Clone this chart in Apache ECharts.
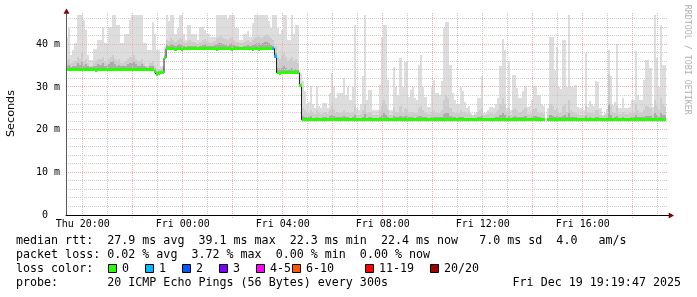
<!DOCTYPE html>
<html><head><meta charset="utf-8">
<script src="https://cdn.jsdelivr.net/npm/echarts@6/dist/echarts.min.js"></script>
<style>html,body{margin:0;padding:0;background:#fff}#c{width:697px;height:297px}</style>
</head><body><div id="c"></div>
<script>
// ---- time base: 5-minute steps starting Thu 19:20 (hours since Thu 00:00)
const startHour = 19 + 20 / 60;
const stepHours = 5 / 60;
const axisMinHour = 19 + 19 / 60 + 47 / 3600;
const axisMaxHour = axisMinHour + 24;
const yMaxMs = 47.2;

// ---- median RTT (ms), one value per 5 minutes
const medianRtt = [
 34.0,34.0,34.0,34.0,34.0,34.0,34.0,34.0,34.0,34.0,34.0,34.0,
 34.0,34.0,33.8,34.0,34.0,34.0,34.0,34.0,34.0,34.0,34.0,34.0,
 34.0,34.0,34.0,34.0,34.0,34.0,34.0,34.0,34.0,34.0,34.0,34.0,
 34.0,34.0,34.0,34.0,34.0,34.0,33.7,33.0,33.2,33.3,33.3,36.8,
 39.0,39.0,39.0,39.0,38.7,39.0,39.0,38.7,39.0,39.0,39.0,39.0,
 39.0,39.0,39.0,39.0,39.0,39.0,39.0,39.0,39.0,39.0,39.0,39.0,
 38.7,39.0,39.0,39.0,39.0,39.0,39.0,38.7,39.0,39.0,39.0,39.0,
 39.0,39.0,39.0,39.0,39.0,38.7,39.0,39.0,38.7,39.0,39.0,39.0,
 39.0,39.0,39.0,39.0,37.2,33.3,33.1,33.3,33.3,33.3,33.3,33.3,
 33.3,33.3,33.3,33.3,30.4,22.3,22.3,22.3,22.3,22.3,22.3,22.3,
 22.3,22.3,22.3,22.3,22.3,22.3,22.3,22.3,22.3,22.3,22.3,22.3,
 22.3,22.3,22.3,22.3,22.3,22.3,22.3,22.3,22.3,22.3,22.3,22.3,
 22.3,22.3,22.3,22.3,22.3,22.3,22.3,22.3,22.3,22.3,22.3,22.3,
 22.3,22.3,22.3,22.3,22.3,22.3,22.3,22.3,22.3,22.3,22.3,22.3,
 22.3,22.3,22.3,22.3,22.3,22.3,22.3,22.3,22.3,22.3,22.3,22.3,
 22.3,22.3,22.3,22.3,22.3,22.3,22.3,22.3,22.3,22.3,22.3,22.3,
 22.3,22.3,22.3,22.3,22.3,22.3,22.3,22.3,22.3,22.3,22.3,22.3,
 22.3,22.3,22.3,22.3,22.3,22.3,22.3,22.3,22.3,22.3,22.3,22.3,
 22.3,22.3,22.3,22.3,22.3,22.3,22.3,22.3,22.3,22.3,22.3,22.3,
 22.3,22.3,null,22.3,22.3,22.3,22.3,22.3,22.3,22.3,22.3,22.3,
 22.3,22.3,22.3,22.3,22.3,22.3,22.3,22.3,22.3,22.3,22.3,22.3,
 22.3,22.3,22.3,22.3,22.3,22.3,22.3,22.3,22.3,22.3,22.3,22.3,
 22.3,22.3,22.3,22.3,22.3,22.3,22.3,22.3,22.3,22.3,22.3,22.3,
 22.3,22.3,22.3,22.3,22.3,22.3,22.3,22.3,22.3,22.4,22.4,22.4
];

// ---- top of the dark smoke core (ms)
const rttCore = [
 34.8,35.2,34.6,34.8,35.0,35.5,35.2,35.8,35.0,35.3,34.8,34.6,
 34.6,34.8,35.0,35.3,35.2,35.6,35.0,34.9,35.3,35.8,36.0,35.3,
 35.0,35.2,34.8,34.8,35.0,35.3,35.6,35.5,35.8,35.3,35.0,35.0,
 35.3,34.8,34.6,34.5,34.8,35.0,34.3,33.6,33.7,33.8,33.8,37.3,
 39.8,39.6,40.0,39.8,39.5,39.8,40.0,39.8,39.5,39.4,39.6,39.7,
 39.5,39.6,39.5,39.4,39.6,39.8,40.0,39.7,39.5,39.5,39.6,39.8,
 40.0,40.2,40.3,40.0,39.8,39.7,40.0,40.2,39.8,39.6,39.5,39.4,
 39.4,39.5,39.7,39.8,39.6,39.8,40.0,40.2,40.4,40.1,40.3,40.5,
 40.5,40.2,39.8,39.6,38.0,34.5,34.2,34.5,34.8,34.4,34.0,34.2,
 34.5,34.0,34.2,33.9,30.8,23.2,23.0,22.9,22.9,23.1,22.8,22.8,
 23.0,22.8,22.7,22.9,23.0,22.8,23.1,23.5,23.2,22.9,23.0,22.9,
 22.9,23.1,22.9,23.0,22.8,22.9,23.4,22.7,22.7,22.8,23.0,23.6,
 22.8,23.0,22.9,22.7,22.7,22.7,23.0,23.4,23.8,23.5,23.0,22.7,
 22.7,23.2,23.0,22.9,23.3,22.9,23.2,23.1,22.9,23.0,22.9,22.8,
 22.9,23.2,23.3,23.0,22.9,22.7,22.7,22.9,23.0,22.9,22.9,22.9,
 23.0,23.6,24.0,23.8,23.2,22.9,22.9,22.8,22.9,23.0,22.9,22.8,
 22.8,22.8,22.7,22.6,22.7,22.9,23.0,23.2,22.7,22.7,22.8,22.8,
 22.8,22.8,22.9,23.0,23.4,23.8,23.5,22.8,23.2,22.7,23.0,23.1,
 23.0,22.9,22.9,23.0,23.1,22.7,22.8,22.9,23.1,23.1,22.9,22.9,
 22.8,22.8,null,22.7,23.4,23.3,23.0,23.2,22.9,22.9,23.3,23.5,
 23.0,23.8,23.0,23.0,22.9,22.7,22.7,22.7,22.7,23.3,22.8,22.9,
 22.8,22.8,23.0,23.0,22.7,22.6,22.7,22.8,26.0,23.4,22.8,22.9,
 23.3,22.8,22.8,22.9,22.8,22.8,22.8,22.9,22.9,23.5,23.0,22.9,
 22.9,23.0,23.3,23.3,23.2,22.8,23.8,23.4,23.0,24.0,23.5,23.4
];

// ---- top of the medium grey smoke (ms)
const rttUpper = [
 36.0,36.5,35.5,35.5,36.0,37.0,36.5,38.0,36.0,36.5,35.5,35.0,
 35.0,35.5,36.0,36.5,36.5,37.0,36.0,35.5,36.5,37.0,37.5,36.5,
 36.0,36.5,35.5,35.5,36.0,36.5,37.0,37.0,37.5,36.5,36.0,36.0,
 36.5,35.5,35.0,35.0,35.5,36.0,35.0,34.2,34.3,34.3,34.4,37.8,
 41.0,40.8,41.5,41.0,40.5,41.0,41.5,41.2,40.5,40.3,40.8,41.0,
 40.5,40.5,40.2,40.0,40.5,41.0,41.2,40.8,40.5,40.3,40.5,40.8,
 41.5,41.8,42.0,41.5,41.2,41.0,41.5,41.8,41.0,40.5,40.5,40.2,
 40.2,40.5,40.8,41.0,40.5,41.0,41.5,41.8,42.0,41.5,41.8,42.0,
 42.5,42.0,41.5,41.0,39.5,37.0,36.5,37.5,38.0,37.0,36.0,36.5,
 37.0,36.0,36.5,35.5,31.0,25.0,24.5,24.0,24.0,24.5,23.8,23.6,
 24.5,23.8,23.6,24.0,24.2,23.6,24.5,25.5,24.8,24.0,24.2,24.0,
 24.0,24.5,24.0,24.2,23.8,24.0,25.5,23.5,23.4,23.6,24.5,26.0,
 23.8,24.2,24.0,23.4,23.5,23.4,24.5,25.5,27.0,26.0,24.5,23.4,
 23.4,25.0,24.2,24.0,25.5,24.0,25.0,24.8,24.0,24.2,24.0,23.8,
 24.0,25.0,25.5,24.5,24.0,23.6,23.6,24.2,24.5,24.0,24.0,24.0,
 24.5,27.0,28.0,27.5,25.0,24.2,24.0,23.8,24.0,24.5,24.2,23.8,
 23.6,23.8,23.4,23.3,23.4,24.2,24.5,25.0,23.5,23.4,23.6,23.8,
 23.8,23.6,24.0,24.5,26.0,27.5,26.0,23.8,25.0,23.5,24.5,25.0,
 24.5,24.2,24.2,24.5,25.0,23.6,23.7,24.0,24.8,25.0,24.2,24.0,
 23.8,23.6,null,23.5,26.0,25.5,24.5,25.0,24.0,24.0,25.5,26.0,
 24.2,27.0,24.5,24.2,24.0,23.6,23.5,23.5,23.4,25.5,23.8,24.0,
 23.8,23.6,24.5,24.5,23.5,23.3,23.4,23.6,33.0,25.5,23.8,24.0,
 25.5,23.6,23.6,24.2,23.6,23.6,23.8,24.0,24.0,26.0,24.5,24.0,
 24.0,24.5,25.5,25.5,25.0,23.6,27.0,25.5,24.5,27.5,26.0,25.5
];

// ---- highest ping of each step (ms), top of the light smoke
const rttMax = [
 41.8,43.7,37.5,38.6,40.2,46.8,46.8,46.8,45.7,43.3,37.5,36.3,
 36.3,38.9,38.9,41.0,41.0,44.1,40.2,40.2,44.1,44.1,46.8,46.8,
 44.5,44.5,40.2,40.2,42.5,42.5,45.7,46.8,46.8,46.8,46.8,46.8,
 46.8,40.2,40.2,38.6,38.6,45.3,42.5,38.6,38.6,35.0,35.0,39.5,
 46.8,45.4,46.8,46.8,42.5,43.8,46.8,46.8,42.5,41.1,44.5,44.5,
 42.5,42.5,42.5,41.0,44.1,44.1,43.3,42.5,42.5,41.8,41.8,41.8,
 46.8,46.8,46.8,46.8,46.8,45.8,46.8,46.8,46.8,43.8,43.8,41.1,
 41.1,42.3,42.3,43.1,41.8,45.0,46.8,46.8,46.8,46.8,46.8,46.8,
 46.8,45.4,43.8,46.8,46.8,43.8,42.5,43.3,46.8,46.8,41.0,41.0,
 46.8,42.5,44.5,44.5,33.0,31.3,29.0,26.0,26.5,30.2,26.0,25.0,
 30.2,25.5,25.0,26.3,26.3,25.0,28.6,33.3,30.0,27.5,28.6,28.6,
 28.6,32.0,28.0,30.0,26.9,30.0,44.5,25.0,24.5,26.0,32.5,46.8,
 27.0,29.3,29.3,24.6,24.6,24.6,30.4,41.8,44.6,44.6,31.6,24.6,
 24.6,34.7,30.0,28.2,36.7,30.0,35.9,35.9,27.7,29.3,30.0,27.5,
 27.0,35.1,37.5,30.0,27.7,25.4,25.4,30.0,31.7,28.5,28.5,28.2,
 31.5,43.8,45.3,45.3,35.1,28.5,27.0,26.0,26.1,30.0,29.0,26.5,
 25.1,25.5,23.8,23.5,24.0,27.4,27.4,32.5,24.0,23.8,24.5,25.4,
 25.4,25.0,26.0,27.4,35.0,41.3,38.6,25.1,36.0,24.5,32.9,32.9,
 29.7,27.4,27.4,29.0,30.2,25.3,25.5,27.0,30.2,30.2,28.2,28.0,
 26.0,25.5,null,25.0,41.8,41.8,34.0,39.4,30.0,29.5,41.1,41.1,
 30.0,46.9,30.1,30.1,30.4,25.4,25.0,25.0,24.5,38.0,25.4,26.6,
 26.0,25.5,31.3,31.2,25.0,23.5,24.0,24.8,38.7,32.6,25.8,26.5,
 40.0,25.0,25.0,27.4,25.0,25.0,25.4,27.0,27.0,38.5,28.0,27.0,
 26.9,31.7,36.4,36.4,34.4,25.4,46.9,36.8,30.0,44.6,35.2,35.2
];

// ---- packet loss: step indexes that lost pings, and their loss bucket
const lossStepIndex = [99, 100];
const lossStepBucket = [1, 1];

// ---- axes / grid / legend
const tickHours = [20, 24, 28, 32, 36, 40];
const tickLabels = ['Thu 20:00', 'Fri 00:00', 'Fri 04:00', 'Fri 08:00', 'Fri 12:00', 'Fri 16:00'];
const yTickValues = [0, 10, 20, 30, 40];
const yTickLabels = ['0  ', '10 m', '20 m', '30 m', '40 m'];
const gridHours = [20,21,22,23,24,25,26,27,28,29,30,31,32,33,34,35,36,37,38,39,40,41,42,43];
const gridMs = [2,4,6,8,10,12,14,16,18,20,22,24,26,28,30,32,34,36,38,40,42,44,46];
const lossLabels = ['0', '1', '2', '3', '4-5', '6-10', '11-19', '20/20'];
const lossColors = ['#26ff00', '#00b8ff', '#0059ff', '#7e00ff', '#ff00ff', '#ff5500', '#ff0000', '#a10000'];
const statLines = [
  'median rtt:  27.9 ms avg  39.1 ms max  22.3 ms min  22.4 ms now   7.0 ms sd  4.0   am/s',
  'packet loss: 0.02 % avg  3.72 % max  0.00 % min  0.00 % now'
];
const lossTitle = 'loss color:';
const probeLine = 'probe:       20 ICMP Echo Pings (56 Bytes) every 300s';
const dateLine = 'Fri Dec 19 19:19:47 2025';

// ---- build series data
const stepTime = i => startHour + i * stepHours;
const smokeData = medianRtt.map((m, i) => [stepTime(i), m, rttCore[i], rttUpper[i], rttMax[i]]);
const medianData = medianRtt.map((m, i) => [stepTime(i), m]);
const lossData = medianRtt.map((m, i) => {
  const k = lossStepIndex.indexOf(i);
  return [stepTime(i), m, k >= 0 ? lossStepBucket[k] : 0];
});

const MONO = '"DejaVu Sans Mono", monospace';
const C_LIGHT = '#dddddd', C_MID = '#cdcdcd', C_DARK = '#ababab';
const C_GRID = '#cccccc', C_MGRID = '#eeb0b0', C_ARROW = '#7f0000';

function stepX(api, t) {
  return [Math.round(api.coord([t, 0])[0]), Math.round(api.coord([t + stepHours, 0])[0])];
}
function renderSmoke(params, api) {
  const t = api.value(0), med = api.value(1);
  if (isNaN(med)) return null;
  const [x0, x1] = stepX(api, t);
  const y = v => Math.round(api.coord([t, v])[1]);
  const yMed = y(med);
  const band = (top, fill) => ({ type: 'rect', shape: { x: x0, y: y(top), width: x1 - x0, height: yMed - y(top) }, style: { fill } });
  return { type: 'group', children: [band(api.value(4), C_LIGHT), band(api.value(3), C_MID), band(api.value(2), C_DARK)] };
}
function renderLoss(params, api) {
  const t = api.value(0), med = api.value(1);
  if (isNaN(med)) return null;
  const [x0, x1] = stepX(api, t);
  const yc = Math.floor(api.coord([t, med])[1]);
  return { type: 'rect', shape: { x: x0, y: yc - 1, width: x1 - x0, height: 3 }, style: { fill: lossColors[api.value(2)] } };
}
function renderVGrid(params, api) {
  const h = api.value(0);
  const p = api.coord([h, 0]);
  const x = Math.floor(p[0]) + 0.5;
  const top = Math.round(api.coord([h, yMaxMs])[1]);
  const major = h % 2 === 0;
  return { type: 'line', shape: { x1: x, y1: top, x2: x, y2: p[1] + (major ? 3 : 0) },
    style: { stroke: major ? C_MGRID : C_GRID, lineWidth: 1, lineDash: [1, 1] } };
}
function renderHGrid(params, api) {
  const v = api.value(1);
  const y = Math.floor(api.coord([axisMinHour, v])[1]) + 0.5;
  const x0 = Math.round(api.coord([axisMinHour, v])[0]);
  const x1 = Math.round(api.coord([axisMaxHour, v])[0]) + 2;
  return { type: 'line', shape: { x1: x0, y1: y, x2: x1, y2: y },
    style: { stroke: v % 10 === 0 ? C_MGRID : C_GRID, lineWidth: 1, lineDash: [1, 1] } };
}

// ---- graphic: legend, titles, arrows
const legendBoxX = [108, 145, 182, 219, 256, 292, 365, 430];
const gfx = [];
statLines.forEach((s, k) => gfx.push({ type: 'text', x: 16, y: 241 + 14 * k,
  style: { text: s, font: '11.66px ' + MONO, fill: '#000', verticalAlign: 'middle', align: 'left' } }));
gfx.push({ type: 'text', x: 16, y: 269, style: { text: lossTitle, font: '11.66px ' + MONO, fill: '#000', verticalAlign: 'middle', align: 'left' } });
lossLabels.forEach((lab, k) => {
  gfx.push({ type: 'rect', shape: { x: legendBoxX[k] + 0.5, y: 264.5, width: 8, height: 8 },
    style: { fill: lossColors[k], stroke: '#000', lineWidth: 1 } });
  gfx.push({ type: 'text', x: legendBoxX[k] + 14, y: 269,
    style: { text: lab, font: '11.66px ' + MONO, fill: '#000', verticalAlign: 'middle', align: 'left' } });
});
gfx.push({ type: 'text', x: 16, y: 283, style: { text: probeLine, font: '11.66px ' + MONO, fill: '#000', verticalAlign: 'middle', align: 'left' } });
gfx.push({ type: 'text', x: 681, y: 283, style: { text: dateLine, font: '11.66px ' + MONO, fill: '#000', verticalAlign: 'middle', align: 'right' } });
gfx.push({ type: 'text', x: 11, y: 113.5, rotation: Math.PI / 2,
  style: { text: 'Seconds', font: '11.2px "DejaVu Sans", sans-serif', fill: '#000', verticalAlign: 'middle', align: 'center' } });
gfx.push({ type: 'text', x: 687.5, y: 59.7, rotation: -Math.PI / 2,
  style: { text: 'RRDTOOL / TOBI OETIKER', font: '8.3px ' + MONO, fill: '#b0b0b0', verticalAlign: 'middle', align: 'center' } });
gfx.push({ type: 'line', shape: { x1: 666, y1: 215.5, x2: 669.5, y2: 215.5 }, style: { stroke: '#000', lineWidth: 1 } });
gfx.push({ type: 'polygon', shape: { points: [[66.5, 8.5], [63.5, 13.8], [69.5, 13.8]] }, style: { fill: C_ARROW } });
gfx.push({ type: 'polygon', shape: { points: [[674, 215.5], [668.7, 212.5], [668.7, 218.5]] }, style: { fill: C_ARROW } });

const chart = echarts.init(document.getElementById('c'), null, { renderer: 'canvas' });
chart.setOption({
  animation: false,
  backgroundColor: '#fff',
  grid: { left: 66, right: 31, top: 13.5, bottom: 82, containLabel: false, outerBoundsMode: 'none' },
  xAxis: {
    type: 'value', min: axisMinHour, max: axisMaxHour, z: 10,
    axisLine: { show: true, onZero: false, lineStyle: { color: '#000', width: 1 } },
    axisTick: { show: false }, splitLine: { show: false },
    axisLabel: {
      customValues: tickHours, margin: 4, fontFamily: MONO, fontSize: 10, color: '#000',
      formatter: v => { const k = tickHours.indexOf(Math.round(v)); return k >= 0 ? tickLabels[k] : ''; }
    }
  },
  yAxis: {
    type: 'value', min: 0, max: yMaxMs, z: 10,
    axisLine: { show: true, onZero: false, lineStyle: { color: '#5a5a5a', width: 1 } },
    axisTick: { show: false }, splitLine: { show: false },
    axisLabel: {
      customValues: yTickValues, margin: 6, fontFamily: MONO, fontSize: 10, color: '#000',
      formatter: v => { const k = yTickValues.indexOf(Math.round(v)); return k >= 0 ? yTickLabels[k] : ''; }
    }
  },
  series: [
    { type: 'custom', name: 'smoke', z: 1, data: smokeData, encode: { x: 0, y: 1 }, renderItem: renderSmoke },
    { type: 'custom', name: 'vgrid', z: 2, data: gridHours.map(h => [h, 0]), encode: { x: 0, y: 1 }, renderItem: renderVGrid, silent: true },
    { type: 'custom', name: 'hgrid', z: 2, data: gridMs.map(v => [axisMinHour, v]), encode: { x: 0, y: 1 }, renderItem: renderHGrid, silent: true },
    { type: 'line', name: 'median', z: 3, step: 'end', symbol: 'none', data: medianData, connectNulls: false,
      lineStyle: { color: '#202020', width: 1 } },
    { type: 'custom', name: 'loss', z: 4, data: lossData, encode: { x: 0, y: 1 }, renderItem: renderLoss }
  ],
  graphic: { elements: gfx }
});
</script></body></html>
